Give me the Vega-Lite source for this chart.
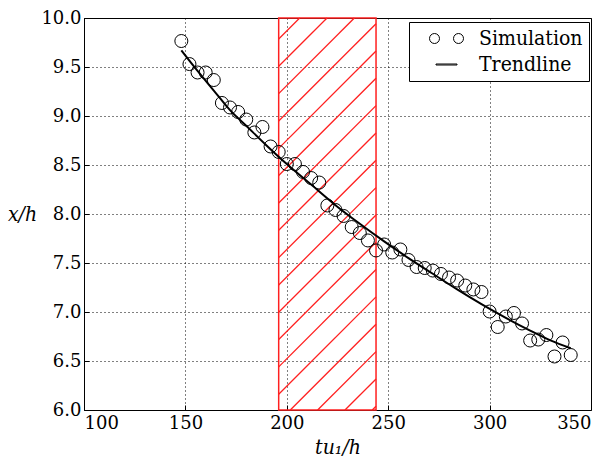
{
  "$schema": "https://vega.github.io/schema/vega-lite/v6.json",
  "width": 507,
  "height": 392,
  "autosize": {"type": "none"},
  "padding": {"left": 84, "top": 18, "right": 16, "bottom": 53},
  "background": "white",
  "config": {
    "view": {"stroke": "black", "strokeWidth": 1},
    "axis": {
      "labelFont": "DejaVu Serif",
      "labelFontSize": 18,
      "labelColor": "black",
      "titleFont": "DejaVu Serif Condensed",
      "titleFontSize": 21,
      "titleFontStyle": "italic",
      "titleFontWeight": "normal",
      "titleColor": "black",
      "grid": true,
      "gridColor": "black",
      "gridDash": [1, 3],
      "gridOpacity": 1,
      "gridWidth": 1,
      "domain": false,
      "ticks": true,
      "tickColor": "black",
      "tickSize": -5,
      "tickWidth": 1
    }
  },
  "datasets": {
    "hatch": [
      {"x": 196, "y": 9.786, "x2": 206.36, "y2": 10},
      {"x": 196, "y": 9.507, "x2": 219.83, "y2": 10},
      {"x": 196, "y": 9.228, "x2": 233.31, "y2": 10},
      {"x": 196, "y": 8.949, "x2": 244, "y2": 9.942},
      {"x": 196, "y": 8.670, "x2": 244, "y2": 9.663},
      {"x": 196, "y": 8.392, "x2": 244, "y2": 9.385},
      {"x": 196, "y": 8.113, "x2": 244, "y2": 9.106},
      {"x": 196, "y": 7.834, "x2": 244, "y2": 8.827},
      {"x": 196, "y": 7.555, "x2": 244, "y2": 8.548},
      {"x": 196, "y": 7.276, "x2": 244, "y2": 8.269},
      {"x": 196, "y": 6.997, "x2": 244, "y2": 7.990},
      {"x": 196, "y": 6.719, "x2": 244, "y2": 7.712},
      {"x": 196, "y": 6.440, "x2": 244, "y2": 7.433},
      {"x": 196, "y": 6.161, "x2": 244, "y2": 7.154},
      {"x": 201.73, "y": 6, "x2": 244, "y2": 6.875},
      {"x": 215.21, "y": 6, "x2": 244, "y2": 6.596},
      {"x": 228.68, "y": 6, "x2": 244, "y2": 6.317},
      {"x": 242.16, "y": 6, "x2": 244, "y2": 6.038}
    ],
    "band": [{"x": 196, "x2": 244, "y": 6, "y2": 10}],
    "sim": [
      {"t": 148, "v": 9.765}, {"t": 152, "v": 9.53}, {"t": 156, "v": 9.444}, {"t": 160, "v": 9.444},
      {"t": 164, "v": 9.367}, {"t": 168, "v": 9.133}, {"t": 172, "v": 9.087}, {"t": 176, "v": 9.041},
      {"t": 180, "v": 8.964}, {"t": 184, "v": 8.832}, {"t": 188, "v": 8.888}, {"t": 192, "v": 8.689},
      {"t": 196, "v": 8.633}, {"t": 200, "v": 8.51}, {"t": 204, "v": 8.51}, {"t": 208, "v": 8.429},
      {"t": 212, "v": 8.367}, {"t": 216, "v": 8.321}, {"t": 220, "v": 8.087}, {"t": 224, "v": 8.041},
      {"t": 228, "v": 7.98}, {"t": 232, "v": 7.867}, {"t": 236, "v": 7.806}, {"t": 240, "v": 7.73},
      {"t": 244, "v": 7.628}, {"t": 248, "v": 7.689}, {"t": 252, "v": 7.607}, {"t": 256, "v": 7.638},
      {"t": 260, "v": 7.531}, {"t": 264, "v": 7.459}, {"t": 268, "v": 7.449}, {"t": 272, "v": 7.423},
      {"t": 276, "v": 7.388}, {"t": 280, "v": 7.352}, {"t": 284, "v": 7.321}, {"t": 288, "v": 7.27},
      {"t": 292, "v": 7.23}, {"t": 296, "v": 7.204}, {"t": 300, "v": 7.005}, {"t": 304, "v": 6.847},
      {"t": 308, "v": 6.954}, {"t": 312, "v": 6.99}, {"t": 316, "v": 6.883}, {"t": 320, "v": 6.709},
      {"t": 324, "v": 6.719}, {"t": 328, "v": 6.765}, {"t": 332, "v": 6.546}, {"t": 336, "v": 6.689},
      {"t": 340, "v": 6.561}
    ],
    "trend": [
      {"t": 148, "v": 9.67}, {"t": 156, "v": 9.46}, {"t": 164, "v": 9.26}, {"t": 172, "v": 9.06},
      {"t": 180, "v": 8.90}, {"t": 190, "v": 8.70}, {"t": 200, "v": 8.51}, {"t": 212, "v": 8.30},
      {"t": 224, "v": 8.09}, {"t": 236, "v": 7.90}, {"t": 248, "v": 7.72}, {"t": 260, "v": 7.55},
      {"t": 272, "v": 7.39}, {"t": 284, "v": 7.23}, {"t": 296, "v": 7.08}, {"t": 308, "v": 6.94},
      {"t": 320, "v": 6.81}, {"t": 330, "v": 6.71}, {"t": 340, "v": 6.63}
    ],
    "legendrows": [
      {"series": "Simulation", "t": null, "v": null},
      {"series": "Trendline", "t": null, "v": null}
    ]
  },
  "layer": [
    {
      "data": {"name": "band"},
      "mark": {"type": "rect", "fillOpacity": 0, "stroke": "#ff2020", "strokeWidth": 1.5},
      "encoding": {
        "x": {"field": "x", "type": "quantitative",
          "scale": {"domain": [100, 350], "nice": false, "zero": false},
          "axis": {"values": [100, 150, 200, 250, 300, 350], "title": "tu\u2081/h", "labelPadding": 9, "titlePadding": 4}},
        "x2": {"field": "x2"},
        "y": {"field": "y", "type": "quantitative",
          "scale": {"domain": [6, 10], "nice": false, "zero": false},
          "axis": {"values": [6, 6.5, 7, 7.5, 8, 8.5, 9, 9.5, 10], "format": ".1f", "title": "x/h",
            "labelPadding": 8, "titleAngle": 0, "titleAlign": "center", "titleBaseline": "middle",
            "titleX": -62, "titleY": 196}},
        "y2": {"field": "y2"}
      }
    },
    {
      "data": {"name": "hatch"},
      "mark": {"type": "rule", "stroke": "#ff2020", "strokeWidth": 1.3},
      "encoding": {
        "x": {"field": "x", "type": "quantitative"},
        "x2": {"field": "x2"},
        "y": {"field": "y", "type": "quantitative"},
        "y2": {"field": "y2"}
      }
    },
    {
      "data": {"name": "sim"},
      "mark": {"type": "point", "shape": "circle", "filled": false, "size": 169, "strokeWidth": 1, "opacity": 1, "color": "black"},
      "encoding": {
        "x": {"field": "t", "type": "quantitative"},
        "y": {"field": "v", "type": "quantitative"}
      }
    },
    {
      "data": {"name": "trend"},
      "mark": {"type": "line", "stroke": "black", "strokeWidth": 2, "interpolate": "monotone"},
      "encoding": {
        "x": {"field": "t", "type": "quantitative"},
        "y": {"field": "v", "type": "quantitative"}
      }
    },
    {
      "data": {"name": "legendrows"},
      "mark": {"type": "point", "filled": false, "size": 100, "strokeWidth": 1, "color": "black", "opacity": 1},
      "encoding": {
        "x": {"field": "t", "type": "quantitative"},
        "y": {"field": "v", "type": "quantitative"},
        "shape": {
          "field": "series",
          "type": "nominal",
          "scale": {
            "domain": ["Simulation", "Trendline"],
            "range": [
              "M -1.4 0 A 1 1 0 1 1 -3.4 0 A 1 1 0 1 1 -1.4 0 Z M 3.4 0 A 1 1 0 1 1 1.4 0 A 1 1 0 1 1 3.4 0 Z",
              "M -2.1 -0.1 L 2.1 -0.1 L 2.1 0.1 L -2.1 0.1 Z"
            ]
          },
          "legend": {
            "title": null,
            "orient": "none",
            "legendX": 325,
            "legendY": 4,
            "strokeColor": "black",
            "fillColor": "white",
            "padding": 6,
            "labelFont": "DejaVu Serif Condensed",
            "labelFontSize": 21,
            "labelColor": "black",
            "symbolSize": 100,
            "symbolOffset": 21,
            "labelOffset": 22,
            "rowPadding": 4,
            "symbolStrokeWidth": 1,
            "symbolStrokeColor": "black",
            "symbolFillColor": "transparent"
          }
        }
      }
    }
  ]
}
